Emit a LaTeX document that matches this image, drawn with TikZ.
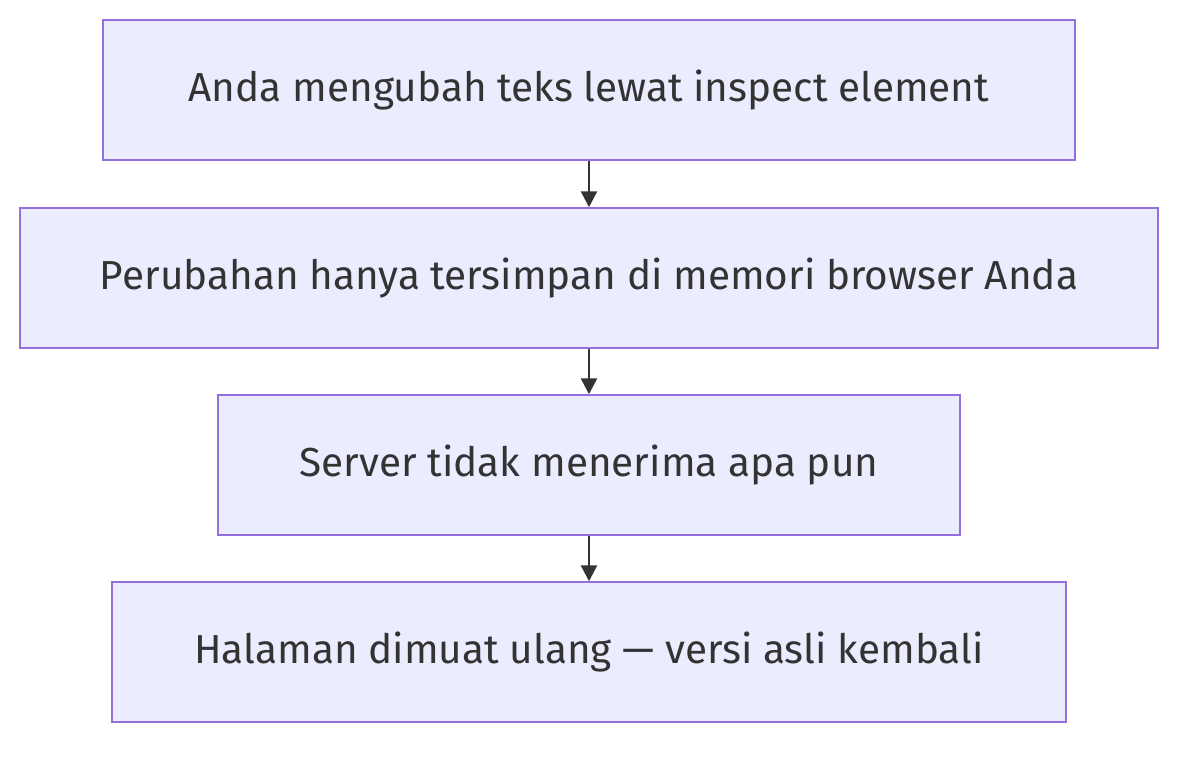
\documentclass[tikz,border=0pt]{standalone}
\usepackage{fontspec}
\setmainfont{Fira Sans}
\usetikzlibrary{arrows.meta}
\definecolor{bfill}{HTML}{ECECFF}
\definecolor{bline}{HTML}{9370DB}
\definecolor{txt}{HTML}{333333}
\begin{document}
\begin{tikzpicture}[x=1pt,y=-1pt,
  box/.style={draw=bline,fill=bfill,line width=1.5pt,text=txt,font=\fontsize{40.5}{48}\selectfont},
  arr/.style={draw=txt,line width=2.5pt,-{Triangle[length=16pt,width=16pt]}}]
\useasboundingbox (0,0) rectangle (1200,756);
\node[box,minimum width=972pt,minimum height=140pt] (a) at (589,90) {\raisebox{-3pt}{Anda mengubah teks lewat inspect element}};
\node[box,minimum width=1138pt,minimum height=140pt] (b) at (589,278) {\raisebox{-3pt}{Perubahan hanya tersimpan di memori browser Anda}};
\node[box,minimum width=742pt,minimum height=140pt] (c) at (589,465) {\raisebox{-3pt}{Server tidak menerima apa pun}};
\node[box,minimum width=954pt,minimum height=140pt] (d) at (589,652) {\raisebox{-3pt}{Halaman dimuat ulang — versi asli kembali}};
\draw[arr] (a) -- (b);
\draw[arr] (b) -- (c);
\draw[arr] (c) -- (d);
\end{tikzpicture}
\end{document}
